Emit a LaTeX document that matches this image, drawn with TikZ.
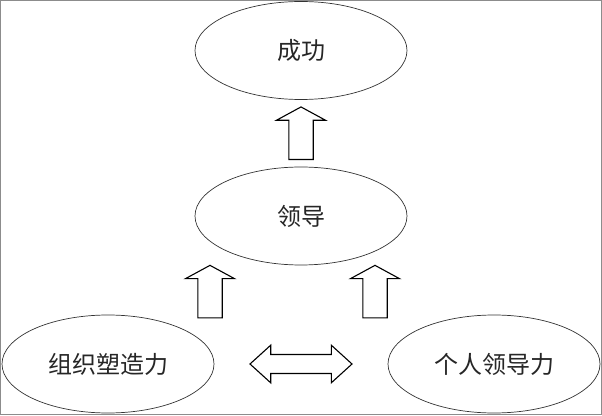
\documentclass[tikz,border=0pt]{standalone}
\usepackage{fontspec}
\setmainfont{Noto Sans CJK SC}
\usepackage{tikz}
\usetikzlibrary{shapes, calc, positioning}

\tikzset{
	goal/.style={draw=black!80, line width=0.7pt, ellipse, minimum width=212pt, minimum height=98pt, inner sep=0pt, text=black!85, font=\fontsize{24pt}{28pt}\selectfont},
	uparrow/.pic={\draw[line width=1.1pt, fill=white] (0,26.3) -- (24.5,13) -- (12.2,13) -- (12.2,-26.3) -- (-12.2,-26.3) -- (-12.2,13) -- (-24.5,13) -- cycle;},
	twoarrow/.pic={\draw[line width=1.1pt, fill=white] (-51,0) -- (-30.3,18.8) -- (-30.3,9.5) -- (30.3,9.5) -- (30.3,18.8) -- (51,0) -- (30.3,-18.8) -- (30.3,-9.5) -- (-30.3,-9.5) -- (-30.3,-18.8) -- cycle;}
}

\begin{document}
\begin{tikzpicture}[x=1pt, y=1pt]
				
				\draw [black!45, line width=0.8pt] (0.5,0.5) rectangle (601.5,414.5);
				\useasboundingbox (0,0) rectangle (602,415);
				
				\node [goal] (succ) at (301,364.5) {成功};
				\node [goal] (lead) at (301,199) {领导};
				\node [goal] (org) at (108,51) {组织塑造力};
				\node [goal] (self) at (494,51) {个人领导力};
				
				\coordinate (up1) at ($(lead.north)!0.5!(succ.south)$);
				\coordinate (up2) at ($(lead.south)+(-91,-26.3)$);
				\coordinate (up3) at ($(lead.south)+(74,-26.3)$);
				\coordinate (both) at ($(org.east)!0.5!(self.west)$);
				
				\pic at (up1) {uparrow};
				\pic at (up2) {uparrow};
				\pic at (up3) {uparrow};
				\pic at (both) {twoarrow};
		\end{tikzpicture}
\end{document}
